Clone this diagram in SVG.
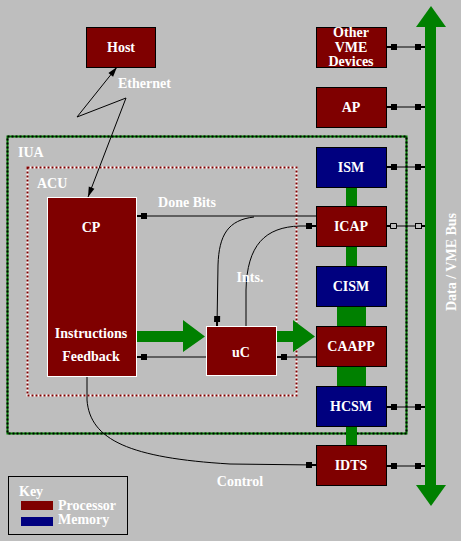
<svg xmlns="http://www.w3.org/2000/svg" width="461" height="541" viewBox="0 0 461 541">
<style>
text{font-family:"Liberation Serif","Times New Roman",serif;font-weight:bold;font-size:14px;fill:#ffffff}
.c{text-anchor:middle}
.proc{fill:#7f0000;stroke:#000;stroke-width:1}
.mem{fill:#00007f;stroke:#000;stroke-width:1}
.procw{fill:#7f0000;stroke:#fff;stroke-width:1}
.ln{fill:none;stroke:#000;stroke-width:1}
.sq{marker-end:url(#sq)}
.bus{fill:#008000}
</style>
<defs>
<marker id="sq" markerUnits="userSpaceOnUse" markerWidth="12" markerHeight="8" viewBox="-11 -4 12 8" refX="0" refY="0" orient="auto-start-reverse">
<path d="M-10,-3 h6 v2 h4 v2 h-4 v2 h-6 z" fill="#000"/>
</marker>
<marker id="hsq" markerUnits="userSpaceOnUse" markerWidth="12" markerHeight="8" viewBox="-11 -4 12 8" refX="0" refY="0" orient="auto-start-reverse">
<path d="M-3,0 h3" stroke="#000" stroke-width="2"/>
<rect x="-9.5" y="-2.5" width="6" height="5" fill="#bebebe" stroke="#000" stroke-width="1"/>
</marker>
<marker id="tri" markerUnits="userSpaceOnUse" markerWidth="12" markerHeight="8" viewBox="-11 -4 12 8" refX="0" refY="0" orient="auto-start-reverse">
<path d="M-10,-3 L0,0 L-10,3 z" fill="#000"/>
</marker>
</defs>
<rect width="461" height="541" fill="#bebebe"/>

<g id="iua">
<rect x="7.5" y="136.5" width="399" height="297" fill="none" stroke="#008000" stroke-width="2"/>
<rect x="7.5" y="136.5" width="399" height="297" fill="none" stroke="#000" stroke-width="2" stroke-dasharray="2,2"/>
<text x="18" y="157">IUA</text>
</g>
<g id="acu">
<rect x="27.5" y="167.5" width="269" height="228" fill="none" stroke="#ffffff" stroke-width="2"/>
<rect x="27.5" y="167.5" width="269" height="228" fill="none" stroke="#7f0000" stroke-width="2" stroke-dasharray="2,2"/>
<text x="37" y="188">ACU</text>
</g>

<g id="vme-bus">
<rect class="bus" x="425" y="26" width="11" height="460"/>
<path class="bus" d="M416,27 L431,6 L446,27 z"/>
<path class="bus" d="M416,485 L431,506 L446,485 z"/>
<text class="c" transform="translate(456,262) rotate(-90)">Data / VME Bus</text>
</g>

<g id="memory-bus">
<rect class="bus" x="346" y="187" width="11" height="80"/>
<rect class="bus" x="337" y="306" width="29" height="81"/>
<rect class="bus" x="346" y="426" width="11" height="21"/>
</g>

<g id="connectors">
<path class="ln" d="M117,67 L77,117 L126,98 L88,197" marker-start="url(#tri)" marker-end="url(#tri)"/>
<path class="ln" d="M387,47 H425" marker-start="url(#sq)" marker-end="url(#sq)"/>
<path class="ln" d="M387,107 H425" marker-start="url(#sq)" marker-end="url(#sq)"/>
<path class="ln" d="M387,167 H425" marker-start="url(#sq)" marker-end="url(#sq)"/>
<path class="ln" d="M387,226 H425" marker-start="url(#hsq)" marker-end="url(#hsq)"/>
<path class="ln" d="M387,407 H425" marker-start="url(#sq)" marker-end="url(#sq)"/>
<path class="ln" d="M387,466 H425" marker-start="url(#sq)" marker-end="url(#sq)"/>
<path class="ln sq" d="M316,216 H137"/>
<path class="ln sq" d="M254,217 C228,220 219,235 218,265 L217,326"/>
<path class="ln sq" d="M246,326 L246,290 C247,245 265,227 300,226 L316,226"/>
<path class="ln sq" d="M206,357 H137"/>
<path class="ln sq" d="M316,357 H277"/>
<path class="ln sq" d="M87,377 L87,400 C90,440 130,458 230,464 L316,465"/>
<path class="bus" d="M137,331 H183 V320 L205,336.5 L183,352 V342 H137 z"/>
<path class="bus" d="M277,331 H293 V320 L315,336.5 L293,352 V342 H277 z"/>
<text class="c" x="187" y="207">Done Bits</text>
<text class="c" x="250" y="282">Ints.</text>
<text x="118" y="88">Ethernet</text>
<text class="c" x="240" y="486">Control</text>
</g>

<g id="host">
<rect class="proc" x="86.5" y="27.5" width="69" height="40"/>
<text class="c" x="121" y="52">Host</text>
</g>
<g id="other-vme">
<rect class="proc" x="316.5" y="27.5" width="70" height="40"/>
<text class="c" x="351" y="37">Other</text>
<text class="c" x="351" y="52">VME</text>
<text class="c" x="351" y="66">Devices</text>
</g>
<g id="ap">
<rect class="proc" x="316.5" y="87.5" width="70" height="40"/>
<text class="c" x="351" y="112">AP</text>
</g>
<g id="ism">
<rect class="mem" x="316.5" y="147.5" width="70" height="40"/>
<text class="c" x="351" y="172">ISM</text>
</g>
<g id="icap">
<rect class="proc" x="316.5" y="206.5" width="70" height="40"/>
<text class="c" x="351" y="231">ICAP</text>
</g>
<g id="cism">
<rect class="mem" x="316.5" y="266.5" width="70" height="40"/>
<text class="c" x="351" y="291">CISM</text>
</g>
<g id="caapp">
<rect class="proc" x="316.5" y="326.5" width="70" height="40"/>
<text class="c" x="351" y="351">CAAPP</text>
</g>
<g id="hcsm">
<rect class="mem" x="316.5" y="386.5" width="70" height="40"/>
<text class="c" x="351" y="411">HCSM</text>
</g>
<g id="idts">
<rect class="proc" x="316.5" y="445.5" width="70" height="40"/>
<text class="c" x="351" y="470">IDTS</text>
</g>
<g id="cp">
<rect class="procw" x="47.5" y="197.5" width="89" height="179"/>
<text class="c" x="91" y="232">CP</text>
<text class="c" x="91" y="338">Instructions</text>
<text class="c" x="91" y="361">Feedback</text>
</g>
<g id="uc">
<rect class="procw" x="206.5" y="326.5" width="70" height="49"/>
<text class="c" x="241" y="357">uC</text>
</g>
<g id="key">
<rect x="8.5" y="476.5" width="119" height="58" fill="none" stroke="#000" stroke-width="1"/>
<text x="19" y="496">Key</text>
<rect x="21" y="501" width="32" height="9" fill="#7f0000"/>
<text x="58" y="510">Processor</text>
<rect x="21" y="517" width="32" height="9" fill="#00007f"/>
<text x="58" y="524">Memory</text>
</g>
</svg>
